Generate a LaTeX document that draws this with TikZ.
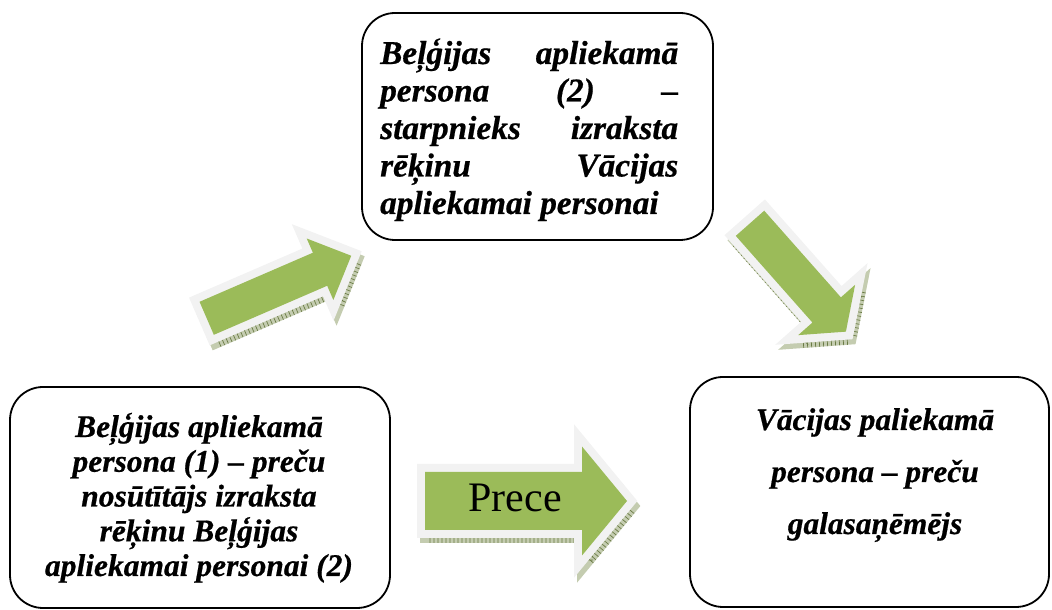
\documentclass[tikz,border=0pt]{standalone}
\usepackage{fontspec}
\setmainfont[BoldItalicFeatures={FakeBold=0.6}]{Liberation Serif}

\definecolor{arrowgreen}{HTML}{9BBB59}
\definecolor{arrowrim}{HTML}{F2F2F2}
\definecolor{bevellight}{HTML}{C4CCB0}
\definecolor{beveldark}{HTML}{6A7B45}

% one centred line of a given width
\newcommand{\ctrline}[2]{\hbox to #1{\hfil #2\hfil}}

% block arrow: tail coordinate, angle, body length, body half width,
% head length, head half width
\newcommand{\blockarrow}[6]{%
  \begin{scope}[shift={(#1)}]
    \begin{scope}[shift={(3,-5)},rotate=#2]
      \path[bevel base] (0,#4) -- (#3,#4) -- (#3,#6) -- ({#3+#5},0)
        -- (#3,-#6) -- (#3,-#4) -- (0,-#4) -- cycle;
      \path[bevel ticks] (0,#4) -- (#3,#4) -- (#3,#6) -- ({#3+#5},0)
        -- (#3,-#6) -- (#3,-#4) -- (0,-#4) -- cycle;
    \end{scope}
    \begin{scope}[rotate=#2]
      \path[arrow rim] (0,#4) -- (#3,#4) -- (#3,#6) -- ({#3+#5},0)
        -- (#3,-#6) -- (#3,-#4) -- (0,-#4) -- cycle;
      \path[arrow face] (0,#4) -- (#3,#4) -- (#3,#6) -- ({#3+#5},0)
        -- (#3,-#6) -- (#3,-#4) -- (0,-#4) -- cycle;
    \end{scope}
  \end{scope}}

\tikzset{
  box/.style={draw=black, line width=1.8pt, fill=white, rounded corners=33pt,
    inner sep=0pt},
  bevel base/.style={draw=bevellight, fill=bevellight, line width=16pt,
    line join=miter},
  bevel ticks/.style={draw=beveldark, line width=16pt, line join=miter,
    dash pattern=on 0.7pt off 3.3pt},
  arrow rim/.style={draw=arrowrim, line width=16pt, line join=miter},
  arrow face/.style={fill=arrowgreen},
  boxtext/.style={inner sep=0pt, font=\bfseries\itshape},
}

\begin{document}
\begin{tikzpicture}[x=1pt,y=1pt]
  \useasboundingbox (0,0) rectangle (1052,610);

  % the three parties
  \node[box, minimum width=351pt, minimum height=227pt] (mid) at (537.5,483.5) {};
  \node[box, minimum width=380pt, minimum height=221pt] (src) at (200,112.5) {};
  \node[box, minimum width=359pt, minimum height=230pt] (dst) at (869.5,118) {};

  % tails of the block arrows
  \coordinate (tailA) at (206.7,291.7);
  \coordinate (tailB) at (750,386.7);
  \coordinate (tailC) at (425,109);

  \blockarrow{tailA}{23.4}{123.5}{18}{34}{33.5}
  \blockarrow{tailB}{-48.5}{115.7}{19}{29}{38}
  \blockarrow{tailC}{0}{157}{29}{45}{54.5}

  \node[anchor=base, inner sep=0pt, font=\fontsize{42}{48}\selectfont]
    (prece) at (515,98) {Prece};

  % texts of the parties
  \node[boxtext, anchor=base west] (midtext) at (380,546)
    {\fontsize{33.3}{37.5}\selectfont\bfseries\itshape
     \vtop{\lineskiplimit=-100pt
      \hbox to 298pt{Beļģijas\hfill apliekamā}
      \hbox to 298pt{persona\hfill (2)\hfill –}
      \hbox to 298pt{starpnieks\hfill izraksta}
      \hbox to 298pt{rēķinu\hfill Vācijas}
      \hbox{apliekamai personai}}};

  \node[boxtext, anchor=base] (srctext) at (199,173)
    {\fontsize{31.5}{34.75}\selectfont\bfseries\itshape
     \vtop{\lineskiplimit=-100pt
      \ctrline{370pt}{Beļģijas apliekamā}
      \ctrline{370pt}{persona (1) – preču}
      \ctrline{370pt}{nosūtītājs izraksta}
      \ctrline{370pt}{rēķinu Beļģijas}
      \ctrline{370pt}{apliekamai personai (2)}}};

  \node[boxtext, anchor=base] (dsttext) at (875,180)
    {\fontsize{31.4}{52}\selectfont\bfseries\itshape
     \vtop{\lineskiplimit=-100pt
      \ctrline{340pt}{Vācijas paliekamā}
      \ctrline{340pt}{persona – preču}
      \ctrline{340pt}{galasaņēmējs}}};
\end{tikzpicture}
\end{document}
